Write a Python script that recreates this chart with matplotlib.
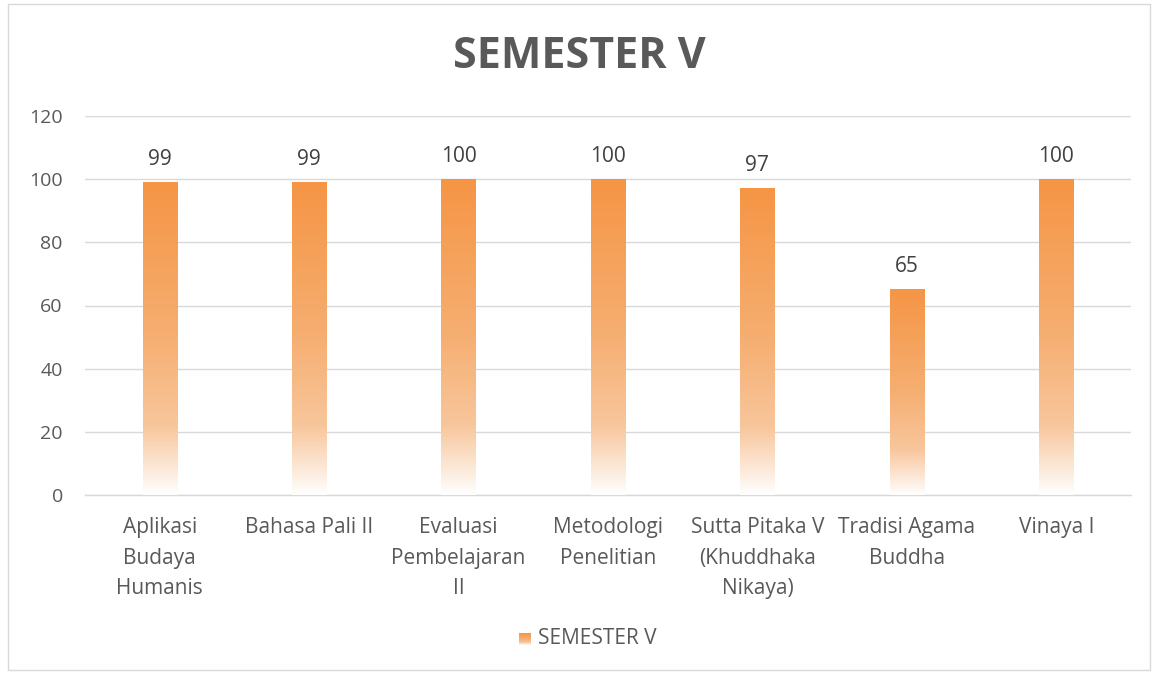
import numpy as np
import matplotlib
matplotlib.use("Agg")
import matplotlib.pyplot as plt
from matplotlib.colors import LinearSegmentedColormap
from matplotlib.patches import Rectangle

categories = ["Aplikasi\nBudaya\nHumanis", "Bahasa Pali II", "Evaluasi\nPembelajaran\nII",
              "Metodologi\nPenelitian", "Sutta Pitaka V\n(Khuddhaka\nNikaya)", "Tradisi Agama\nBuddha", "Vinaya I"]
values = [99, 99, 100, 100, 97, 65, 100]
series_name = "SEMESTER V"
yticks = [0, 20, 40, 60, 80, 100, 120]

plt.rcParams['font.family'] = ['Open Sans', 'DejaVu Sans']
txt = "#595959"

fig = plt.figure(figsize=(11.58, 6.74), dpi=100)
fig.patches.append(Rectangle((8/1158, 4/674), 1142/1158, 666/674, transform=fig.transFigure,
                             fill=False, edgecolor="#D9D9D9", lw=1))
ax = fig.add_axes([85/1158, 1 - 495/674, 1046/1158, (495-116)/674])

cmap = LinearSegmentedColormap.from_list("g", [(0.0, "#FFFFFF"), (0.05, "#FDF1E7"), (0.22, "#F8C69C"),
                                               (0.5, "#F6AF72"), (1.0, "#F59545")])
grad = np.linspace(0, 1, 256).reshape(-1, 1)
w = 0.23
bars = ax.bar(range(len(values)), values, width=w, color="none", edgecolor="none", zorder=3)
for b in bars:
    x0, y0, bw, bh = b.get_x(), b.get_y(), b.get_width(), b.get_height()
    ax.imshow(grad, cmap=cmap, origin="lower", aspect="auto",
              extent=[x0, x0 + bw, y0, y0 + bh], zorder=3, interpolation="bilinear")
ax.set_xlim(-0.5, len(categories) - 0.5)
ax.set_ylim(0, 120)

for i, v in enumerate(values):
    ax.text(i, v + 4, str(v), ha="center", va="bottom", fontsize=15, color="#404040")

ax.set_yticks(yticks)
ax.set_yticklabels([str(t) for t in yticks], fontsize=14, color=txt)
ax.set_xticks(range(len(categories)))
ax.set_xticklabels(categories, fontsize=15, color=txt, linespacing=1.6)
ax.tick_params(axis="both", length=0)
ax.tick_params(axis="y", pad=16)
ax.tick_params(axis="x", pad=16)
ax.grid(axis="y", color="#D9D9D9", lw=1, zorder=0)
ax.set_axisbelow(True)
for s in ["top", "right", "left"]:
    ax.spines[s].set_visible(False)
ax.spines["bottom"].set_color("#D9D9D9")
ax.spines["bottom"].set_linewidth(1)

fig.text(0.5, 1 - 57/674, "SEMESTER V", ha="center", va="center", fontsize=31,
         fontweight="bold", color=txt)

lax = fig.add_axes([519/1158, 1 - 645/674, 12/1158, 12/674])
lax.imshow(grad, cmap=cmap, origin="lower", aspect="auto", extent=[0, 1, 0, 1])
lax.set_axis_off()
fig.text(538/1158, 1 - 639/674, series_name, ha="left", va="center", fontsize=15, color=txt)

fig.savefig("out.png", dpi=100)
